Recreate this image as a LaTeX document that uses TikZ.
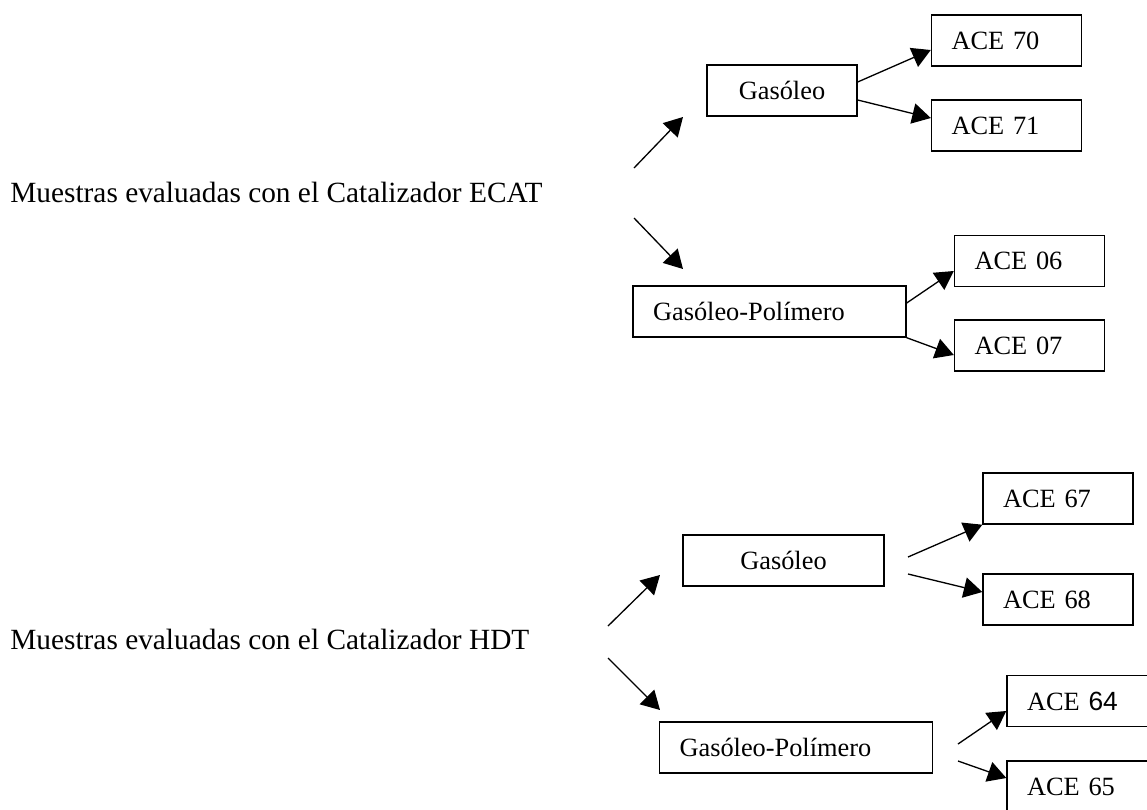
\documentclass[tikz,border=0pt]{standalone}
\usepackage{fontspec}
\setmainfont{Liberation Serif}
\newfontfamily\numsans{Liberation Sans}
\usetikzlibrary{arrows.meta}

\begin{document}
\begin{tikzpicture}[
  x=0.02cm, y=-0.02cm,
  flecha/.style={-{Triangle[length=0.37cm, width=0.41cm]}, line width=0.75pt},
  caja/.style={draw, line width=0.8pt, minimum height=1.02cm, inner xsep=0.4cm,
               inner ysep=0pt, font=\fontsize{15}{18}\selectfont},
  cajaace/.style={caja, text width=2.2cm, align=left},
  cajagp/.style={caja, text width=4.66cm, align=left},
  rotulo/.style={anchor=base west, inner sep=0pt, font=\fontsize{16.7}{20}\selectfont},
]
\useasboundingbox (0,0) rectangle (1147,809);

% ===== Catalizador ECAT (arriba) =====
  \node[rotulo] (ecat) at (10,202) {Muestras evaluadas con el Catalizador ECAT};
  \coordinate (ecatS) at (634,168);
  \coordinate (ecatN) at (683,117);
  \coordinate (ecatI) at (634,218);
  \coordinate (ecatD) at (683,269);
  \node[caja, text width=2.2cm, align=center] (G1) at (782,90.5) {Gasóleo};
  \node[cajaace] (A70) at (1006.5,40.5) {ACE 70};
  \node[cajaace] (A71) at (1006.5,125.5) {ACE 71};
  \node[cajagp] (P1) at (769.5,311.5) {Gasóleo-Polímero};
  \node[cajaace] (A06) at (1029.5,261) {ACE 06};
  \node[cajaace] (A07) at (1029.5,345.5) {ACE 07};
  \draw[flecha] (ecatS) -- (ecatN);
  \draw[flecha] (ecatI) -- (ecatD);
  \draw[flecha] ([yshift=0.17cm]G1.east) -- ([yshift=-0.19cm]A70.west);
  \draw[flecha] ([yshift=-0.19cm]G1.east) -- ([yshift=0.15cm]A71.west);
  \draw[flecha] ([yshift=0.17cm]P1.east) -- ([yshift=-0.2cm]A06.west);
  \draw[flecha] (P1.south east) -- ([yshift=-0.19cm]A07.west);

% ===== Catalizador HDT (abajo) =====
  \node[rotulo] (hdt) at (10,649) {Muestras evaluadas con el Catalizador HDT};
  \coordinate (hdtS) at (608,626);
  \coordinate (hdtN) at (660,575);
  \coordinate (hdtI) at (608,658);
  \coordinate (hdtD) at (660,710);
  \node[caja, text width=3.22cm, align=center] (G2) at (783.5,560.5) {Gasóleo};
  \node[cajaace] (A67) at (1058,498.5) {ACE 67};
  \node[cajaace] (A68) at (1058,599.5) {ACE 68};
  \node[cajagp] (P2) at (796,747.5) {Gasóleo-Polímero};
  \node[cajaace] (A64) at (1082,701) {ACE {\numsans 64}};
  \node[cajaace] (A65) at (1082,786.5) {ACE 65};
  \coordinate (g2a) at (908,557);
  \coordinate (g2b) at (908,574);
  \coordinate (p2a) at (958,744);
  \coordinate (p2b) at (958,761);
  \draw[flecha] (hdtS) -- (hdtN);
  \draw[flecha] (hdtI) -- (hdtD);
  \draw[flecha] (g2a) -- (A67.south west);
  \draw[flecha] (g2b) -- ([yshift=0.15cm]A68.west);
  \draw[flecha] (p2a) -- ([yshift=-0.2cm]A64.west);
  \draw[flecha] (p2b) -- ([yshift=0.17cm]A65.west);

\end{tikzpicture}
\end{document}
